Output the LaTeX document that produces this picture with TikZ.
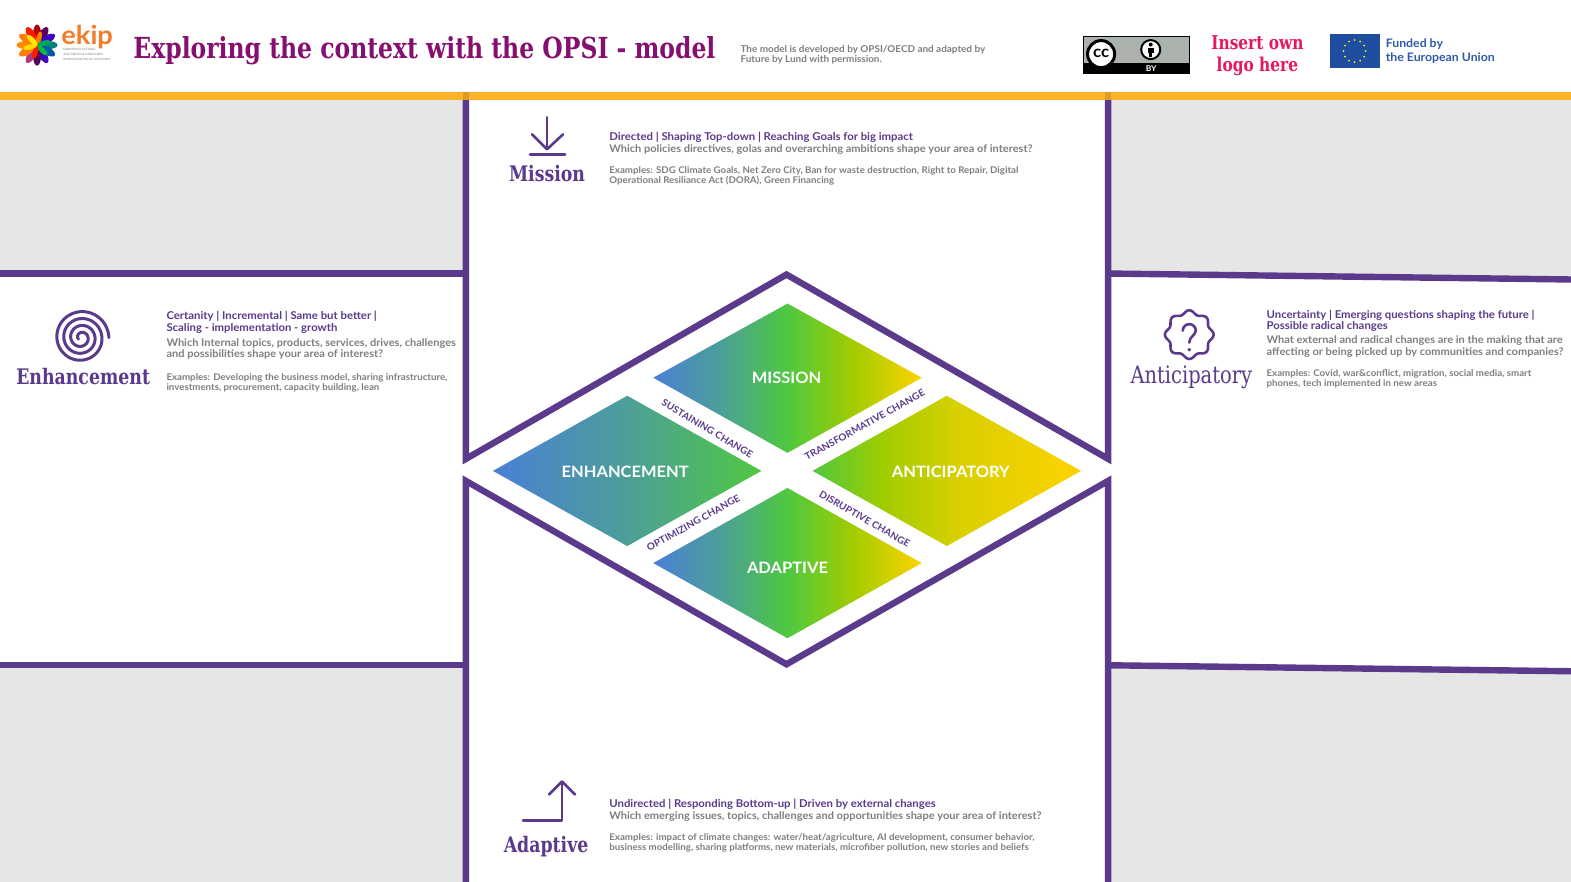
\documentclass[tikz,border=0pt]{standalone}
\usepackage{fontspec}
\setmainfont[FakeStretch=1.05]{Lato}
\newfontfamily\slabfont[FakeStretch=0.9]{DejaVu Serif Condensed}

\definecolor{opsipurple}{HTML}{5B3A8C}
\definecolor{opsigrey}{HTML}{7F7F7F}
\definecolor{opsipanel}{HTML}{E6E6E6}
\definecolor{opsibar}{HTML}{FBB12B}
\definecolor{opsititle}{HTML}{861070}
\definecolor{ekiporange}{HTML}{F47B2A}
\definecolor{logored}{HTML}{E6175C}
\definecolor{eublue}{HTML}{1F4EA1}
\definecolor{eutext}{HTML}{2F5AA8}
\definecolor{ccgrey}{HTML}{AAB2AB}

\definecolor{gradblue}{HTML}{4A7FD6}
\definecolor{gradteal}{HTML}{4C9F98}
\definecolor{gradgreen}{HTML}{4FC840}
\definecolor{gradlime}{HTML}{A0CC00}
\definecolor{gradolive}{HTML}{D8D000}
\definecolor{gradyellow}{HTML}{FFD200}
\pgfdeclarehorizontalshading{gradmission}{100bp}{color(0bp)=(gradblue); color(25bp)=(gradblue);
  color(37.5bp)=(gradteal); color(50bp)=(gradgreen); color(62bp)=(gradlime);
  color(75bp)=(gradyellow); color(100bp)=(gradyellow)}
\pgfdeclarehorizontalshading{gradleft}{100bp}{color(0bp)=(gradblue); color(25bp)=(gradblue);
  color(50bp)=(gradteal); color(75bp)=(gradgreen); color(100bp)=(gradgreen)}
\pgfdeclarehorizontalshading{gradright}{100bp}{color(0bp)=(gradgreen); color(25bp)=(gradgreen);
  color(38bp)=(gradlime); color(52bp)=(gradolive); color(75bp)=(gradyellow); color(100bp)=(gradyellow)}

\tikzset{
  frameline/.style={opsipurple,line width=6.4,line join=miter},
  iconline/.style={opsipurple,line width=2.6,line cap=round,line join=round},
  bigname/.style={opsipurple,inner sep=0,font=\slabfont\bfseries\fontsize{21.4}{24}\selectfont},
  headtext/.style={opsipurple,anchor=north west,inner sep=0,align=left,font=\bfseries\fontsize{10.8}{11.5}\selectfont},
  asktext/.style={opsigrey,anchor=north west,inner sep=0,align=left,font=\bfseries\fontsize{10.5}{11.5}\selectfont},
  exampletext/.style={opsigrey,anchor=north west,inner sep=0,align=left,font=\bfseries\fontsize{9.25}{10}\selectfont},
  areaname/.style={white,inner sep=0,font=\bfseries\fontsize{15.7}{18}\selectfont},
  changename/.style={opsipurple,inner sep=0,font=\bfseries\fontsize{9.6}{12}\selectfont},
}

\begin{document}
\begin{tikzpicture}[x=1.0019pt,y=-1.0019pt]
  \clip (0,0) rectangle (1568,880.3);
  \fill[white] (0,0) rectangle (1568,880.3);

  % grey panels
  \fill[opsipanel] (0,100) rectangle (462,272);
  \fill[opsipanel] (0,664) rectangle (462,882);
  \fill[opsipanel] (1109,100) -- (1571,100) -- (1571,279) -- (1109,273) -- cycle;
  \fill[opsipanel] (1109,664) -- (1571,670) -- (1571,882) -- (1109,882) -- cycle;

  % frame
  \draw[frameline] (465,92) -- (465,458) -- (785,274) -- (1106,458) -- (1106,92);
  \draw[frameline] (465,890) -- (465,480) -- (785,663) -- (1106,480) -- (1106,890);
  \draw[frameline] (0,273) -- (465,273);
  \draw[frameline] (0,664) -- (465,664);
  \draw[frameline] (1106,273) -- (1571,279);
  \draw[frameline] (1106,664) -- (1571,670);
  \fill[opsibar] (0,92) rectangle (1571,100);
  \fill[opsibar!88!black] (462,92) rectangle (468,100);
  \fill[opsibar!88!black] (1103,92) rectangle (1109,100);

  % diamonds
  \shade[shading=gradmission] (652,377) -- (786,303) -- (920,377) -- (786,452) -- cycle;
  \shade[shading=gradleft] (492,470) -- (626,395) -- (760,470) -- (626,545) -- cycle;
  \shade[shading=gradright] (811,470) -- (945,395) -- (1079,470) -- (945,545) -- cycle;
  \shade[shading=gradmission] (652,562) -- (786,487) -- (920,562) -- (786,637) -- cycle;
  \node[areaname] (mission) at (785,377) {MISSION};
  \node[areaname] (enhancement) at (624,471) {ENHANCEMENT};
  \node[areaname] (anticipatory) at (949,471) {ANTICIPATORY};
  \node[areaname] (adaptive) at (786,567) {ADAPTIVE};
  \node[changename,rotate=-31] (sustaining) at (706,428) {SUSTAINING CHANGE};
  \node[changename,rotate=29] (transformative) at (863,424) {TRANSFORMATIVE CHANGE};
  \node[changename,rotate=29] (optimizing) at (692,522) {OPTIMIZING CHANGE};
  \node[changename,rotate=-30] (disruptive) at (863,518) {DISRUPTIVE CHANGE};

  % header
  \foreach \a/\c in {90/red!70!black,60/violet!70!black,30/blue!50!violet,0/teal,-30/teal!70!blue,-60/blue!50!violet,-90/violet!70!black,-120/magenta!70!black,-150/orange,180/orange!90!yellow,150/orange,120/red!80!orange}
    \fill[\c,rotate around={\a:(37,45)}] (48,45) ellipse (9.5 and 4);
  \foreach \a/\c in {75/orange,15/teal!70!green,-45/green!50!teal,-105/red!80!orange,-165/yellow!80!orange,135/yellow!90!orange}
    \fill[\c,rotate around={\a:(37,45)}] (44,45) ellipse (7 and 2.6);
  \node[ekiporange,inner sep=0,font=\bfseries\fontsize{26}{26}\selectfont] (ekip) at (87,37) {ekip};
  \node[opsigrey,anchor=north west,inner sep=0,align=left,font=\fontsize{2.9}{5}\selectfont] (ekipsub) at (63,48.5)
    {EUROPEAN CULTURAL\\AND CREATIVE INDUSTRIES\\INNOVATION POLICY PLATFORM};
  \node[opsititle,anchor=west,inner sep=0,font=\slabfont\bfseries\fontsize{29}{32}\selectfont] (title) at (133,51)
    {Exploring the context with the OPSI - model};
  \node[opsigrey,anchor=north west,inner sep=0,align=left,font=\bfseries\fontsize{9.45}{10}\selectfont] (credit) at (739,45)
    {The model is developed by OPSI/OECD and adapted by\\Future by Lund with permission.};

  % cc badge
  \fill[ccgrey,draw=black,line width=1] (1081.5,36.5) rectangle (1187.5,73.5);
  \fill[black] (1081.5,63) rectangle (1187.5,73.5);
  \node[white,inner sep=0,font=\bfseries\fontsize{8}{8}\selectfont] (ccby) at (1149,68.5) {BY};
  \filldraw[fill=white,draw=black,line width=3] (1099,54) circle (13.5);
  \node[black,inner sep=0,font=\bfseries\fontsize{16}{16}\selectfont] (cc) at (1099,53) {cc};
  \filldraw[fill=white,draw=black,line width=2] (1148.5,49.5) circle (9.5);
  \fill[black] (1148.5,44.5) circle (2);
  \fill[black] (1145.5,47.5) rectangle (1151.5,52.5);
  \fill[black] (1147,52) rectangle (1150,57);

  \node[logored,inner sep=0,align=center,font=\slabfont\bfseries\fontsize{19}{22.5}\selectfont] (ownlogo) at (1255,55.5)
    {Insert own\\logo here};

  % eu flag
  \fill[eublue] (1327,34) rectangle (1377,68);
  \foreach \a in {0,30,...,330}
    \fill[yellow] ({1352+11*cos(\a)},{51+11*sin(\a)}) circle (1);
  \node[eutext,anchor=north west,inner sep=0,align=left,font=\bfseries\fontsize{11.7}{14}\selectfont] (funded) at (1383,38.5)
    {Funded by\\the European Union};

  % mission
  \draw[iconline] (546,117) -- (546,149);
  \draw[iconline] (531,134) -- (546,149) -- (562,134);
  \draw[iconline] (529,154) -- (564,154);
  \node[bigname] (missionname) at (546,173.5) {Mission};
  \node[headtext] (missionhead) at (608,132) {Directed | Shaping Top-down | Reaching Goals for big impact};
  \node[asktext] (missionask) at (608,144) {Which policies directives, golas and overarching ambitions shape your area of interest?};
  \node[exampletext] (missionex) at (608,166.5) {Examples: SDG Climate Goals, Net Zero City, Ban for waste destruction, Right to Repair, Digital\\Operational Resiliance Act (DORA), Green Financing};

  % enhancement
  \draw[opsipurple,line width=3,line cap=round] plot[domain=150:1440,samples=240,smooth,variable=\t]
    ({81+\t/52*cos(\t)},{337+\t/52*sin(\t)});
  \node[bigname] (enhancementname) at (83,375.5) {Enhancement};
  \node[headtext] (enhancementhead) at (166,310.5) {Certanity | Incremental | Same but better |\\Scaling - implementation - growth};
  \node[asktext] (enhancementask) at (166,337.5) {Which Internal topics, products, services, drives, challenges\\and possibilities shape your area of interest?};
  \node[exampletext] (enhancementex) at (166,372.5) {Examples: Developing the business model, sharing infrastructure,\\investments, procurement, capacity building, lean};

  % anticipatory
  \draw[iconline] plot[domain=0:360,samples=145,smooth,variable=\t]
    ({1187+(22.5+1.8*cos(8*\t))*cos(\t)},{334+(22.5+1.8*cos(8*\t))*sin(\t)}) -- cycle;
  \draw[iconline] (1180.5,330) arc (180:360:6.5) .. controls (1193,335) and (1187,336) .. (1187,342);
  \fill[opsipurple] (1187,349) circle (1.9);
  \node[bigname,font=\slabfont\fontsize{24}{26}\selectfont] (anticipatoryname) at (1189,376.5) {Anticipatory};
  \node[headtext] (anticipatoryhead) at (1264,309) {Uncertainty | Emerging questions shaping the future |\\Possible radical changes};
  \node[asktext] (anticipatoryask) at (1264,335) {What external and radical changes are in the making that are\\affecting or being picked up by communities and companies?};
  \node[exampletext] (anticipatoryex) at (1264,368.5) {Examples: Covid, war\&conflict, migration, social media, smart\\phones, tech implemented in new areas};

  % adaptive
  \draw[iconline] (522,819) -- (561,819) -- (561,780);
  \draw[iconline] (548,793) -- (561,780) -- (574,793);
  \node[bigname] (adaptivename) at (545,845) {Adaptive};
  \node[headtext] (adaptivehead) at (608,797) {Undirected | Responding Bottom-up | Driven by external changes};
  \node[asktext] (adaptiveask) at (608,810) {Which emerging issues, topics, challenges and opportunities shape your area of interest?};
  \node[exampletext] (adaptiveex) at (608,831.5) {Examples: impact of climate changes: water/heat/agriculture, AI development, consumer behavior,\\business modelling, sharing platforms, new materials, microfiber pollution, new stories and beliefs};
\end{tikzpicture}
\end{document}
